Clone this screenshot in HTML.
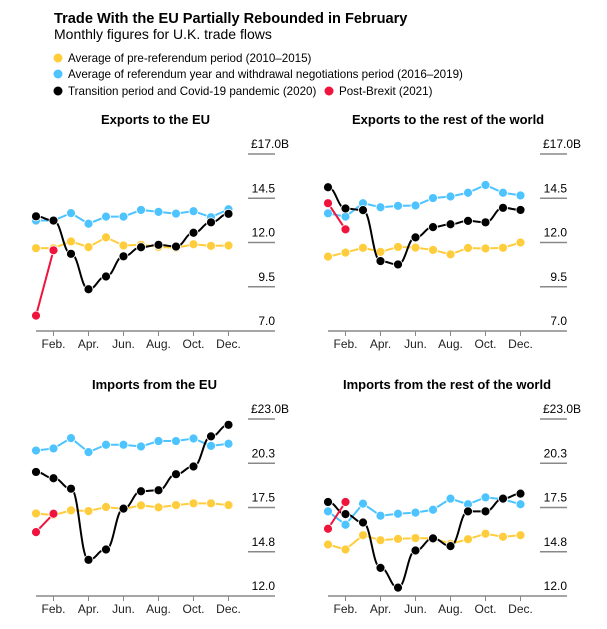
<!DOCTYPE html>
<html><head><meta charset="utf-8"><style>
body{margin:0;background:#fff;}
svg{display:block;font-family:"Liberation Sans",Arial,sans-serif;}
</style></head><body>
<svg id="c" width="607" height="629">
<text x="54" y="23" font-size="14.6" font-weight="bold" fill="#000">Trade With the EU Partially Rebounded in February</text>
<text x="54" y="39" font-size="14" fill="#000">Monthly figures for U.K. trade flows</text>
<g font-size="11.6" fill="#000">
<circle cx="58" cy="58" r="4.5" fill="#ffcd3c"/>
<text x="68" y="62">Average of pre-referendum period  (2010–2015)</text>
<circle cx="58" cy="74" r="4.5" fill="#4dc3ff"/>
<text x="68" y="78">Average of referendum year and withdrawal negotiations period (2016–2019)</text>
<circle cx="58" cy="91" r="4.5" fill="#000"/>
<text x="68" y="95">Transition period and Covid-19 pandemic (2020)</text>
<circle cx="329" cy="91" r="4.5" fill="#f0143c"/>
<text x="339" y="95">Post-Brexit (2021)</text>
</g>
</svg>
<script>
const months=["Feb.","Apr.","Jun.","Aug.","Oct.","Dec."];
const topTicks=["£17.0B","14.5","12.0","9.5","7.0"];
const botTicks=["£23.0B","20.3","17.5","14.8","12.0"];
const exEUYellow=[11.68,11.68,12.06,11.74,12.29,11.83,11.87,11.75,11.7,11.9,11.81,11.83];
const exEUBlue=[13.24,13.24,13.66,13.06,13.46,13.46,13.84,13.73,13.63,13.77,13.43,13.88];
const exEUBlack=[13.48,13.24,11.36,9.36,10.08,11.22,11.73,11.87,11.77,12.55,13.14,13.62];
const exEURed=[7.87,11.56];
const exRWYellow=[11.2,11.43,11.7,11.47,11.75,11.71,11.58,11.33,11.69,11.66,11.7,12.0];
const exRWBlue=[13.65,13.46,14.22,13.99,14.07,14.09,14.51,14.6,14.81,15.25,14.81,14.66];
const exRWBlack=[15.12,13.92,13.83,10.95,10.76,12.29,12.87,13.03,13.22,13.14,13.96,13.84];
const exRWRed=[14.22,12.74];
const imEUYellow=[17.13,17.03,17.32,17.28,17.53,17.41,17.63,17.51,17.65,17.76,17.76,17.65];
const imEUBlue=[21.04,21.17,21.81,20.94,21.4,21.4,21.29,21.63,21.63,21.79,21.33,21.46];
const imEUBlack=[19.71,19.32,18.67,14.25,14.89,17.43,18.51,18.57,19.57,20.05,21.92,22.64];
const imEURed=[15.97,17.11];
const imRWYellow=[15.2,14.89,15.78,15.47,15.55,15.6,15.58,15.24,15.53,15.87,15.68,15.78];
const imRWBlue=[17.26,16.43,17.74,16.99,17.11,17.18,17.36,18.05,17.7,18.13,18.01,17.7];
const imRWBlack=[17.84,17.09,16.57,13.75,12.52,14.83,15.58,15.1,17.26,17.26,18.05,18.36];
const imRWRed=[16.18,17.84];

const svg=document.getElementById('c');
const NS='http://www.w3.org/2000/svg';
function mk(tag,attrs,parent){const e=document.createElementNS(NS,tag);for(const k in attrs)e.setAttribute(k,attrs[k]);(parent||svg).appendChild(e);return e;}

const panels=[
 {name:'exports-eu',title:'Exports to the EU',tx:101,x0:36,y0:154,min:7,max:17,ticks:topTicks,s:[exEUYellow,exEUBlue,exEUBlack,exEURed]},
 {name:'exports-row',title:'Exports to the rest of the world',tx:352,x0:328,y0:154,min:7,max:17,ticks:topTicks,s:[exRWYellow,exRWBlue,exRWBlack,exRWRed]},
 {name:'imports-eu',title:'Imports from the EU',tx:92,x0:36,y0:419,min:12,max:23,ticks:botTicks,s:[imEUYellow,imEUBlue,imEUBlack,imEURed]},
 {name:'imports-row',title:'Imports from the rest of the world',tx:343,x0:328,y0:419,min:12,max:23,ticks:botTicks,s:[imRWYellow,imRWBlue,imRWBlack,imRWRed]}
];
const colors=['#ffcd3c','#4dc3ff','#000','#f0143c'];
const snames=['pre-referendum','referendum','transition','post-brexit'];
panels.forEach(p=>{
 const g=mk('g',{});
 
 
 const H=177, step=17.5;
 const xs=i=>p.x0+i*step;
 const ys=v=>p.y0+H-(v-p.min)/(p.max-p.min)*H;
 const t=mk('text',{x:p.tx,y:p.y0-30,'font-size':13,'font-weight':'bold'},g);t.textContent=p.title;
 
 
 const gx=p.x0+212, gw=27;
 p.ticks.forEach((lab,i)=>{
  const y=p.y0+i*H/4;
  if(i<4){const l=mk('line',{x1:gx,x2:gx+gw,y1:y,y2:y,stroke:'#888','stroke-width':1.5},g);
   
   }
  const tt=mk('text',{x:i==0?gx+3:gx+gw,y:y-6,'font-size':12,'text-anchor':i==0?'start':'end'},g);tt.textContent=lab;
  
  
 });
 const ax=mk('line',{x1:p.x0,x2:gx+gw,y1:p.y0+H,y2:p.y0+H,stroke:'#888','stroke-width':1.5},g);
 
 
 months.forEach((m,k)=>{
  const x=xs(1+2*k);
  const tk=mk('line',{x1:x,x2:x,y1:p.y0+H,y2:p.y0+H+5,stroke:'#888','stroke-width':1},g);
  
  
  const lt=mk('text',{x:x,y:p.y0+H+17,'font-size':12,'text-anchor':'middle',fill:'#222'},g);lt.textContent=m;
  
  
 });
 p.s.forEach((arr,si)=>{
  let d='';
  arr.forEach((v,i)=>{
   const x=xs(i),y=ys(v);
   if(i==0)d+='M'+x+','+y;
   else if(si==2){const px=xs(i-1),py=ys(arr[i-1]);d+=' C'+(px+step*0.45)+','+py+' '+(x-step*0.45)+','+y+' '+x+','+y;}
   else d+=' L'+x+','+y;
  });
  const pth=mk('path',{d:d,fill:'none',stroke:colors[si],'stroke-width':2},g);
  
  
  arr.forEach((v,i)=>{
   const c=mk('circle',{cx:xs(i),cy:ys(v),r:4.5,fill:colors[si],stroke:'#fff','stroke-width':0.8},g);
   
   
  });
 });
});
</script>
</body></html>
